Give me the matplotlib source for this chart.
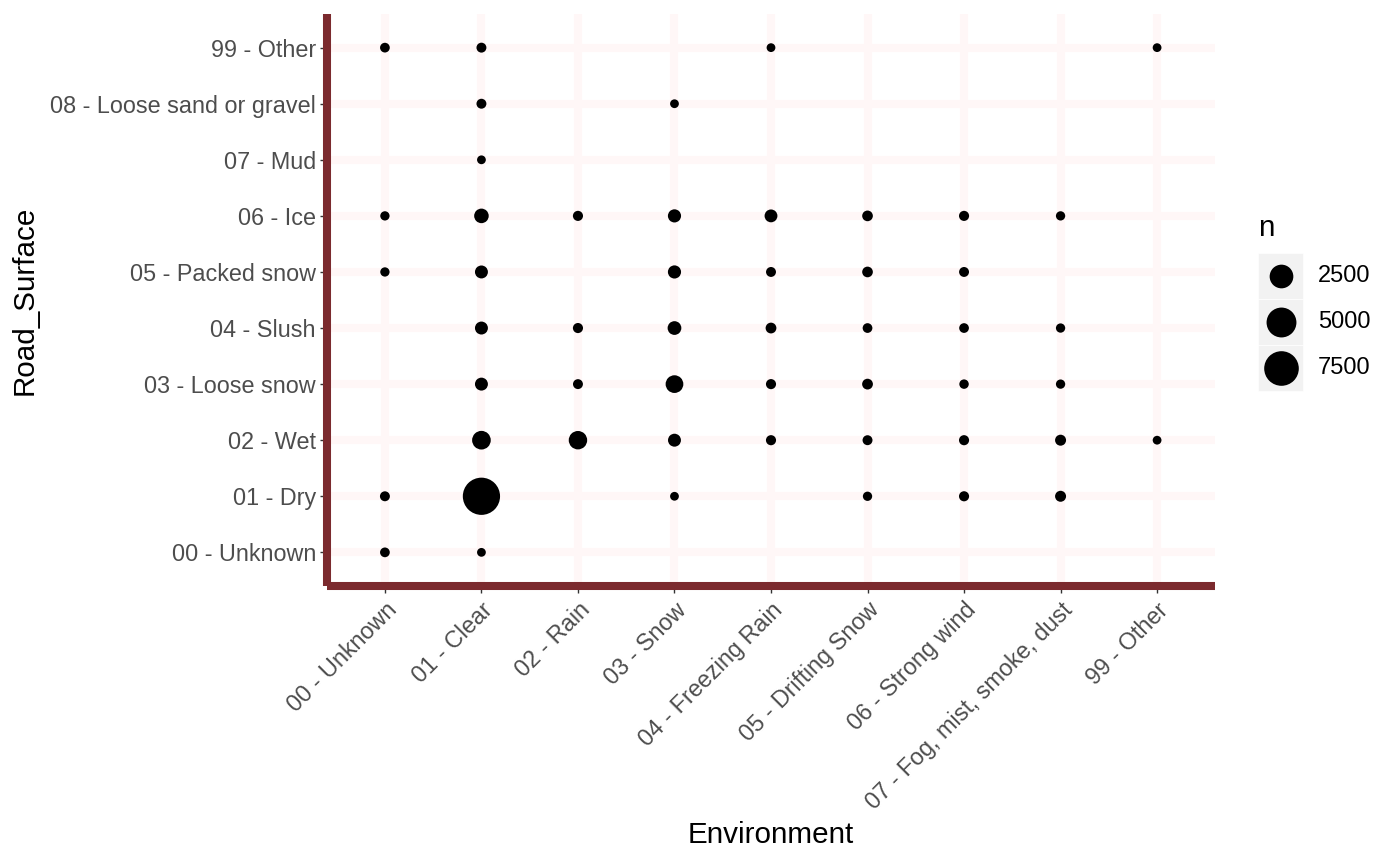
import matplotlib.pyplot as plt
import numpy as np

plt.rcParams['font.family'] = ['Liberation Sans', 'DejaVu Sans']

environment = ["00 - Unknown", "01 - Clear", "02 - Rain", "03 - Snow",
               "04 - Freezing Rain", "05 - Drifting Snow", "06 - Strong wind",
               "07 - Fog, mist, smoke, dust", "99 - Other"]
road_surface = ["00 - Unknown", "01 - Dry", "02 - Wet", "03 - Loose snow",
                "04 - Slush", "05 - Packed snow", "06 - Ice", "07 - Mud",
                "08 - Loose sand or gravel", "99 - Other"]

# counts, one row per road surface, columns follow environment (0 = no point)
n_counts = [
    [15,   5,    0,    0,   0,  0,  0,  0, 0],
    [20,   9100, 0,    5,   0,  8,  25, 60, 0],
    [0,    1100, 1050, 200, 25, 20, 25, 60, 5],
    [0,    200,  20,   900, 25, 50, 10, 8,  0],
    [0,    200,  25,   280, 50, 15, 15, 8,  0],
    [8,    200,  0,    220, 20, 45, 20, 0,  0],
    [8,    380,  25,   220, 190, 45, 25, 8, 0],
    [0,    5,    0,    0,   0,  0,  0,  0,  0],
    [0,    20,   0,    5,   0,  0,  0,  0,  0],
    [15,   20,   0,    0,   5,  0,  0,  0,  5],
]
legend_breaks = [2500, 5000, 7500]

W, H, DPI = 1400, 865, 100
axis_red = '#7B2A2E'
grid_col = '#FFF7F7'

counts = np.array(n_counts, dtype=float)
nmin = counts[counts > 0].min()
nmax = counts.max()

def marker_area(n):
    # ggplot scale_size: area scaled into size range 1..6
    n = np.asarray(n, dtype=float)
    size = 1 + 5 * np.sqrt(np.clip((n - nmin) / (nmax - nmin), 0, 1))
    d_px = 2 * (size * 2.845 + 0.945) + 1.2
    d_pt = d_px * 72.0 / DPI
    return d_pt ** 2

fig = plt.figure(figsize=(W / DPI, H / DPI), dpi=DPI)
ax = fig.add_axes([327 / W, 1 - 586 / H, (1215 - 327) / W, (586 - 14) / H])

yy, xx = np.nonzero(counts)
ax.scatter(xx, yy, s=marker_area(counts[yy, xx]), color='black',
           linewidths=0, zorder=3)

ax.set_xlim(-0.6, len(environment) - 1 + 0.6)
ax.set_ylim(-0.6, len(road_surface) - 1 + 0.6)
ax.set_xticks(range(len(environment)))
ax.set_yticks(range(len(road_surface)))
ax.set_xticklabels(environment, rotation=45, ha='right', va='top',
                   rotation_mode='anchor')
ax.set_yticklabels(road_surface)
ax.tick_params(axis='both', length=5, width=1, color='#333333',
               labelcolor='#4D4D4D', labelsize=16.8, pad=3)
ax.tick_params(axis='x', pad=4)

ax.grid(True, color=grid_col, linewidth=5.8, zorder=0)
ax.set_axisbelow(True)
for side in ['top', 'right']:
    ax.spines[side].set_visible(False)
for side in ['left', 'bottom']:
    ax.spines[side].set_color(axis_red)
    ax.spines[side].set_linewidth(5.8)
    ax.spines[side].set_capstyle('butt')

fig.text(771 / W, 1 - 835 / H, 'Environment', ha='center', va='center',
         fontsize=21.3, color='black')
fig.text(25 / W, 1 - 300 / H, 'Road_Surface', ha='center', va='center',
         rotation=90, fontsize=21.3, color='black')

# legend drawn in pixel coordinates
lax = fig.add_axes([0, 0, 1, 1])
lax.set_xlim(0, W)
lax.set_ylim(H, 0)
lax.axis('off')
lax.text(1258, 228, 'n', ha='left', va='center', fontsize=21.3, color='black')
key_top, key_h = 253, 46
for i, b in enumerate(legend_breaks):
    y0 = key_top + i * key_h
    lax.add_patch(plt.Rectangle((1258, y0), 45, key_h, facecolor='#F2F2F2',
                                edgecolor='white', linewidth=0.5))
    lax.scatter([1281], [y0 + key_h / 2], s=marker_area(b), color='black',
                linewidths=0, zorder=3)
    lax.text(1318, y0 + key_h / 2, str(b), ha='left', va='center',
             fontsize=17, color='black')

fig.savefig('out.png', dpi=DPI)
